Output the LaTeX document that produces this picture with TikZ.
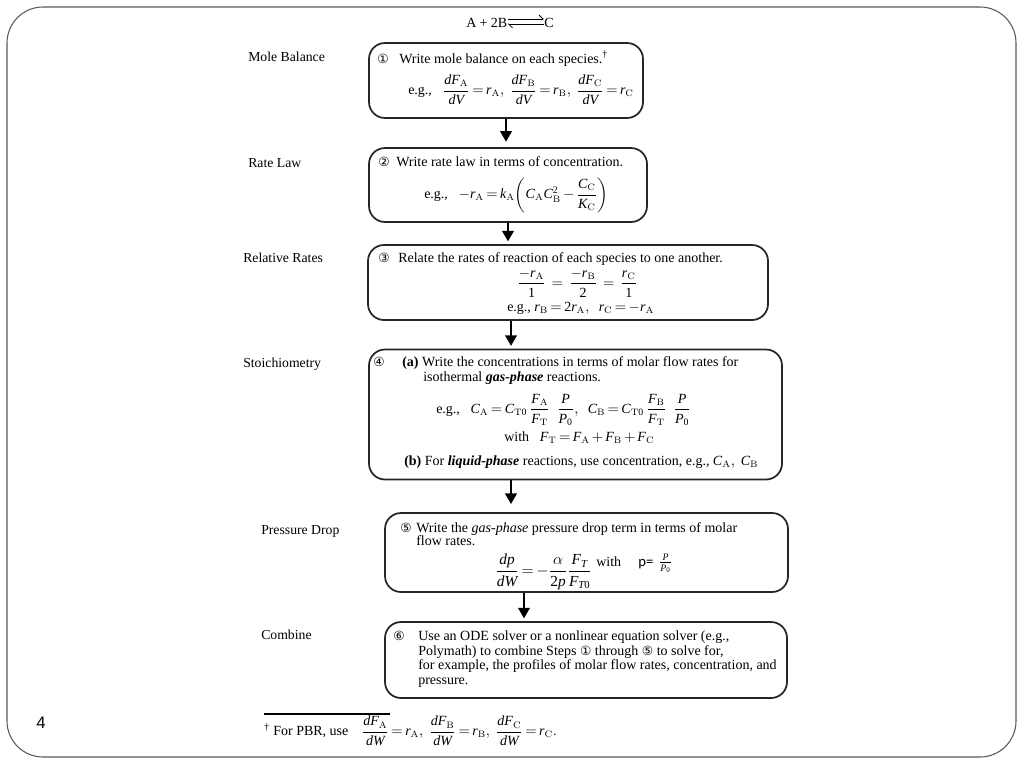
\documentclass[tikz,border=0pt]{standalone}
\usepackage{amsmath}
\usepackage{mathspec}
\setmainfont{Liberation Serif}
\setmathsfont(Digits,Latin){Liberation Serif}
\newfontfamily\circfont{DejaVu Sans}
\newfontfamily\slidefont{Liberation Sans}
\newfontfamily\calfont{Carlito}
\usetikzlibrary{arrows.meta}

\newcommand{\stepno}[1]{{\circfont\fontsize{9.5}{10}\selectfont #1}}
\newcommand{\sub}[1]{_{\mathrm{#1}}}

\begin{document}
\begin{tikzpicture}[x=0.75pt,y=-0.75pt,
    stepbox/.style={draw=black!85,line width=1.3pt,rounded corners=12pt,inner sep=0pt},
    steplabel/.style={anchor=base west,inner sep=0pt,font=\fontsize{10.3}{12}\selectfont},
    boxtext/.style={anchor=base west,inner sep=0pt,font=\fontsize{10.5}{12}\selectfont,
      execute at begin node={\thickmuskip=3mu plus 1mu\medmuskip=2.5mu plus 1mu}},
    eqtext/.style={boxtext,anchor=west},
    flow/.style={line width=2.2pt,shorten >=2pt,-{Triangle[length=8pt,width=8.5pt]}},
    rxn/.style={line width=0.6pt,-{Straight Barb[left,length=3pt]}}]
  \useasboundingbox (0,0) rectangle (1024,768);
  % slide frame
  \draw[black!65,line width=0.8pt,rounded corners=27pt] (7,7) rectangle (1016,757);
  \node[font=\slidefont\fontsize{12.5}{14}\selectfont,inner sep=0pt] (pageno) at (41,723) {4};

  % reaction
  \node[boxtext] (lhs) at (466,27) {A\hspace{2.5pt}+\hspace{2.5pt}2B};
  \node[boxtext] (prod) at (544,27) {C};
  \draw[rxn] ([yshift=6pt]lhs.base east) -- ([yshift=6pt]prod.base west);
  \draw[rxn] ([yshift=2.3pt]prod.base west) -- ([yshift=2.3pt]lhs.base east);

  % step names
  \node[steplabel] (lblmole) at (248,61) {Mole Balance};
  \node[steplabel] (lblrate) at (248,167) {Rate Law};
  \node[steplabel] (lblrel) at (243,262) {Relative Rates};
  \node[steplabel] (lblstoich) at (243,367) {Stoichiometry};
  \node[steplabel] (lblpress) at (261,534) {Pressure Drop};
  \node[steplabel] (lblcomb) at (261,639) {Combine};

  % boxes
  \node[stepbox,minimum width=205.5pt,minimum height=56.25pt] (mole) at (506,80.5) {};
  \node[stepbox,minimum width=208.5pt,minimum height=55.5pt] (rate) at (508,185) {};
  \node[stepbox,minimum width=300pt,minimum height=56.25pt] (relative) at (568,282.5) {};
  \node[stepbox,minimum width=309.75pt,minimum height=97.5pt] (stoich) at (575.5,414.5) {};
  \node[stepbox,minimum width=302.25pt,minimum height=59.25pt] (pressure) at (586.5,552.5) {};
  \node[stepbox,minimum width=301.5pt,minimum height=57pt] (combine) at (586,660) {};

  \draw[flow,shorten >=4pt] (mole.south) -- (mole.south |- rate.north);
  \draw[flow] (508,0 |- rate.south) -- (508,0 |- relative.north);
  \draw[flow] (511,0 |- relative.south) -- (511,0 |- stoich.north);
  \draw[flow,shorten >=6pt] (511,0 |- stoich.south) -- (511,0 |- pressure.north);
  \draw[flow] (524,0 |- pressure.south) -- (524,0 |- combine.north);

  % 1
  \node[boxtext] (mole1) at (377,63) {\makebox[16.5pt][l]{\stepno{①}}Write mole balance on each species.\textsuperscript{\dag}};
  \node[eqtext] (mole2) at (408,90) {e.g.,\hspace{8pt}$\dfrac{dF\sub{A}}{dV}=r\sub{A},\ \dfrac{dF\sub{B}}{dV}=r\sub{B},\ \dfrac{dF\sub{C}}{dV}=r\sub{C}$};
  % 2
  \node[boxtext] (rate1) at (378,166) {\makebox[13.5pt][l]{\stepno{②}}Write rate law in terms of concentration.};
  \node[eqtext] (rate2) at (424,195) {e.g.,\hspace{8pt}$-r\sub{A}=k\sub{A}\!\left(C\sub{A}C\sub{B}^{2}-\dfrac{C\sub{C}}{K\sub{C}}\right)$};
  % 3
  \node[boxtext] (rel1) at (378,262) {\makebox[15pt][l]{\stepno{③}}Relate the rates of reaction of each species to one another.};
  \node[eqtext] (rel2) at (517,283) {$\dfrac{-r\sub{A}}{1}\ =\ \dfrac{-r\sub{B}}{2}\ =\ \dfrac{r\sub{C}}{1}$};
  \node[boxtext] (rel3) at (507,311) {e.g., $r\sub{B}=2r\sub{A},\ \ r\sub{C}=-r\sub{A}$};
  % 4
  \node[boxtext] (st1) at (373,366) {\makebox[21.75pt][l]{\stepno{④}}\textbf{(a)} Write the concentrations in terms of molar flow rates for};
  \node[boxtext] (st2) at (423,381) {isothermal \textbf{\textit{gas-phase}} reactions.};
  \node[eqtext,execute at begin node={}] (st3) at (436,410) {e.g.,\hspace{8pt}$C\sub{A}=C\sub{T0}\,\dfrac{F\sub{A}}{F\sub{T}}\ \ \dfrac{P}{P_0},\ \ C\sub{B}=C\sub{T0}\,\dfrac{F\sub{B}}{F\sub{T}}\ \ \dfrac{P}{P_0}$};
  \node[boxtext] (st4) at (504,441) {with\hspace{8pt}$F\sub{T}=F\sub{A}+F\sub{B}+F\sub{C}$};
  \node[boxtext] (st5) at (404,465) {\textbf{(b)} For \textbf{\textit{liquid-phase}} reactions, use concentration, e.g., $C\sub{A},\ C\sub{B}$};
  % 5
  \node[boxtext] (pd1) at (400,532) {\makebox[12pt][l]{\stepno{⑤}}Write the \textit{gas-phase} pressure drop term in terms of molar};
  \node[boxtext] (pd2) at (416,545) {flow rates.};
  \node[eqtext,font=\fontsize{11.5}{13}\selectfont] (pd3) at (495,572) {$\dfrac{dp}{dW}=-\dfrac{\alpha}{2p}\dfrac{F_T}{F_{T0}}$};
  \node[boxtext] (pd4) at (596,566) {with\hspace{13pt}{\calfont\fontsize{11}{12}\selectfont p=}\hspace{4pt}$\frac{P}{P_0}$};
  % 6
  \node[boxtext] (cb1) at (393,640) {\makebox[18.75pt][l]{\stepno{⑥}}Use an ODE solver or a nonlinear equation solver (e.g.,};
  \node[boxtext] (cb2) at (418,655) {Polymath) to combine Steps \stepno{①} through \stepno{⑤} to solve for,};
  \node[boxtext] (cb3) at (418,669) {for example, the profiles of molar flow rates, concentration, and};
  \node[boxtext] (cb4) at (418,684) {pressure.};

  % footnote
  \draw[line width=0.8pt] (264,714) -- (390,714);
  \node[eqtext] (foot) at (264,731) {\textsuperscript{\dag} For PBR, use\hspace{10pt}$\dfrac{dF\sub{A}}{dW}=r\sub{A},\ \dfrac{dF\sub{B}}{dW}=r\sub{B},\ \dfrac{dF\sub{C}}{dW}=r\sub{C}.$};
\end{tikzpicture}
\end{document}
